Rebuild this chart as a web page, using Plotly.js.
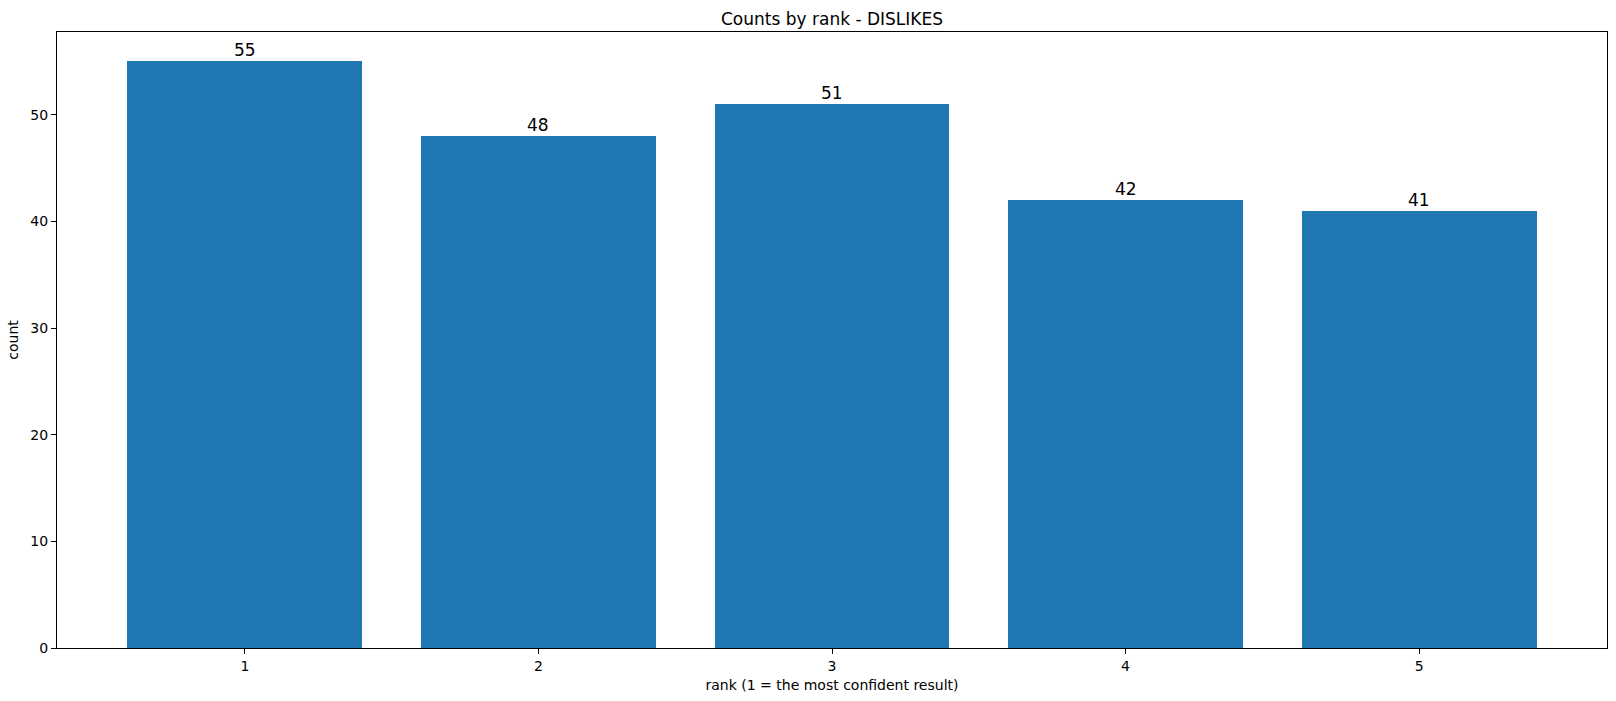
<!DOCTYPE html>
<html>
<head>
<meta charset="utf-8">
<script src="https://cdn.plot.ly/plotly-3.0.1.min.js"></script>
<style>
  html, body { margin: 0; padding: 0; background: #fff; }
  #chart { width: 1616px; height: 701px; }
</style>
</head>
<body>
<div id="chart"></div>
<script>
var ranks = [1, 2, 3, 4, 5];
var counts = [55, 48, 51, 42, 41];
var tickLabels = ['1', '2', '3', '4', '5'];

var trace = {
  x: ranks,
  y: counts,
  type: 'bar',
  width: 0.8,
  marker: { color: '#1f77b4', line: { width: 0 } },
  hoverinfo: 'x+y'
};

// value labels above each bar
var barLabels = ranks.map(function(r, i) {
  return {
    x: r, y: counts[i], xref: 'x', yref: 'y',
    text: String(counts[i]),
    showarrow: false,
    xanchor: 'center', yanchor: 'bottom',
    yshift: -1,
    font: { family: 'DejaVu Sans', size: 17, color: '#000' }
  };
});

var layout = {
  width: 1616,
  height: 701,
  margin: { l: 57, r: 9, t: 32, b: 53 },
  paper_bgcolor: '#fff',
  plot_bgcolor: '#fff',
  font: { family: 'DejaVu Sans', size: 14, color: '#000' },
  title: {
    text: 'Counts by rank - DISLIKES',
    font: { family: 'DejaVu Sans', size: 17, color: '#000' },
    x: 0.5, xref: 'paper', xanchor: 'center',
    y: 1, yref: 'paper', yanchor: 'bottom',
    pad: { b: 7 }
  },
  showlegend: false,
  bargap: 0,
  annotations: barLabels,
  xaxis: {
    range: [0.36, 5.64],
    tickvals: ranks,
    ticktext: tickLabels,
    ticks: 'outside', ticklen: 5, tickwidth: 1, tickcolor: '#000',
    showline: true, linecolor: '#000', linewidth: 1, mirror: true,
    showgrid: false, zeroline: false,
    tickfont: { size: 14 },
    title: { text: 'rank (1 = the most confident result)', font: { size: 14 }, standoff: 7 },
    automargin: false
  },
  yaxis: {
    range: [0, 57.75],
    tickvals: [0, 10, 20, 30, 40, 50],
    ticks: 'outside', ticklen: 5, tickwidth: 1, tickcolor: '#000',
    showline: true, linecolor: '#000', linewidth: 1, mirror: true,
    showgrid: false, zeroline: false,
    tickfont: { size: 14 },
    title: { text: 'count', font: { size: 14 }, standoff: 8 },
    automargin: false
  }
};

Plotly.newPlot('chart', [trace], layout, { displayModeBar: false, staticPlot: true });
</script>
</body>
</html>
